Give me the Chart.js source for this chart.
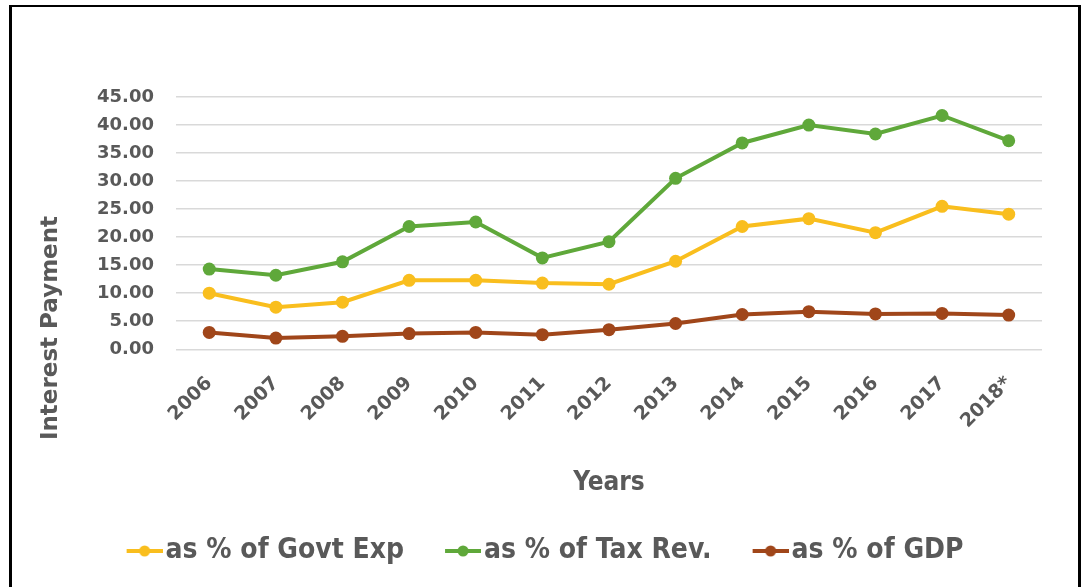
<!DOCTYPE html>
<html>
<head>
<meta charset="utf-8">
<script src="https://cdn.jsdelivr.net/npm/chart.js@4/dist/chart.umd.min.js"></script>
<style>
  html, body { margin: 0; padding: 0; background: #fff; }
  #wrap { position: relative; width: 1082px; height: 587px; }
  #frame {
    position: absolute; left: 9px; top: 5px; width: 1066px; height: 600px;
    border-left: 3px solid #000; border-top: 2px solid #000; border-right: 3px solid #000;
    pointer-events: none;
  }
</style>
</head>
<body>
<div id="wrap">
  <canvas id="chart"></canvas>
  <div id="frame"></div>
</div>
<script>
const years = ["2006", "2007", "2008", "2009", "2010", "2011", "2012", "2013", "2014", "2015", "2016", "2017", "2018*"];
const govtExp = [10.0, 7.5, 8.4, 12.3, 12.3, 11.8, 11.6, 15.7, 21.9, 23.3, 20.8, 25.5, 24.1];
const taxRev = [14.3, 13.2, 15.6, 21.9, 22.7, 16.3, 19.2, 30.5, 36.8, 40.0, 38.4, 41.7, 37.2];
const gdp = [3.0, 2.0, 2.3, 2.8, 3.0, 2.6, 3.5, 4.6, 6.2, 6.7, 6.3, 6.4, 6.1];
const yTicks = [0, 5, 10, 15, 20, 25, 30, 35, 40, 45];

const textColor = "#595959";
const tickFont = "'DejaVu Sans', Verdana, sans-serif";
const narrowFont = "'DejaVu Sans Condensed', 'DejaVu Sans', sans-serif";

function series(label, data, color) {
  return {
    label: label,
    data: data,
    borderColor: color,
    backgroundColor: color,
    borderWidth: 4,
    pointRadius: 6.5,
    pointHoverRadius: 6.5,
    pointBorderWidth: 0,
    tension: 0,
  };
}

// line-with-dot icon for the legend; drawn in the right part of the
// canvas so it sits close to its label text
function legendIcon(color) {
  const c = document.createElement("canvas");
  c.width = 52;
  c.height = 14;
  const g = c.getContext("2d");
  g.strokeStyle = color;
  g.lineWidth = 4;
  g.beginPath();
  g.moveTo(16, 7);
  g.lineTo(52, 7);
  g.stroke();
  g.fillStyle = color;
  g.beginPath();
  g.arc(34, 7, 5.5, 0, Math.PI * 2);
  g.fill();
  return c;
}

const yTitle = {
  id: "yTitle",
  afterDraw(chart) {
    const ctx = chart.ctx;
    ctx.save();
    ctx.translate(51, 328);
    ctx.rotate(-Math.PI / 2);
    ctx.fillStyle = textColor;
    ctx.font = "bold 23px " + tickFont;
    ctx.textAlign = "center";
    ctx.textBaseline = "middle";
    ctx.fillText("Interest Payment", 0, 0);
    ctx.restore();
  },
};

// the legend in the original sits a bit left of the plot centre
const legendShift = {
  id: "legendShift",
  afterLayout(chart) {
    if (chart.legend) {
      chart.legend.left -= 16;
      chart.legend.right -= 16;
    }
  },
};

const canvas = document.getElementById("chart");
canvas.width = 1082;
canvas.height = 587;

new Chart(canvas, {
  type: "line",
  data: {
    labels: years,
    datasets: [
      series("as % of Govt Exp", govtExp, "#F9BE1E"),
      series("as % of Tax Rev.", taxRev, "#5FA83A"),
      series("as % of GDP", gdp, "#A0461A"),
    ],
  },
  options: {
    responsive: false,
    animation: false,
    layout: { padding: { top: 97, left: 75, right: 40, bottom: 12 } },
    plugins: {
      tooltip: { enabled: false },
      legend: {
        position: "bottom",
        labels: {
          color: textColor,
          font: { family: narrowFont, size: 28, weight: "bold" },
          usePointStyle: true,
          pointStyleWidth: 30,
          padding: 36,
          generateLabels(chart) {
            const items = Chart.defaults.plugins.legend.labels.generateLabels(chart);
            items.forEach((it, i) => {
              it.pointStyle = legendIcon(chart.data.datasets[i].borderColor);
            });
            return items;
          },
        },
      },
    },
    scales: {
      x: {
        offset: true,
        grid: { display: false },
        border: { display: false },
        ticks: {
          color: textColor,
          font: { family: tickFont, size: 19, weight: "bold" },
          minRotation: 45,
          maxRotation: 45,
          padding: 15,
        },
        title: {
          display: true,
          text: "Years",
          color: textColor,
          font: { family: narrowFont, size: 26, weight: "bold" },
          padding: { top: 20, bottom: 2 },
        },
      },
      y: {
        min: 0,
        max: 45,
        afterBuildTicks(scale) {
          scale.ticks = yTicks.map(v => ({ value: v }));
        },
        grid: { color: "#D9D9D9", lineWidth: 1.5, drawTicks: false },
        border: { display: false },
        ticks: {
          color: textColor,
          font: { family: tickFont, size: 18, weight: "bold" },
          padding: 22,
          callback: v => Number(v).toFixed(2),
        },
      },
    },
  },
  plugins: [yTitle, legendShift],
});
</script>
</body>
</html>
